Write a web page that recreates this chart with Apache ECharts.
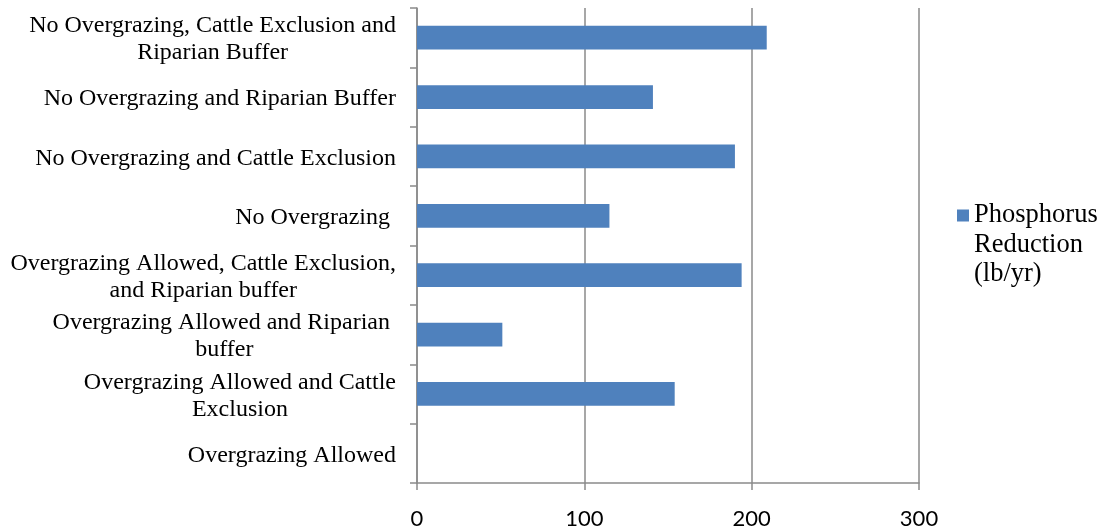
<!DOCTYPE html>
<html>
<head>
<meta charset="utf-8">
<script src="https://cdn.jsdelivr.net/npm/echarts@6/dist/echarts.min.js"></script>
<style>
  html, body { margin: 0; padding: 0; background: #fff; }
  #chart { width: 1107px; height: 531px; }
</style>
</head>
<body>
<div id="chart"></div>
<script>
// bottom to top, as the category axis draws them
const categories = [
  'Overgrazing Allowed',
  'Overgrazing Allowed and Cattle\nExclusion',
  'Overgrazing Allowed and Riparian \nbuffer',
  'Overgrazing Allowed, Cattle Exclusion,\nand Riparian buffer',
  'No Overgrazing ',
  'No Overgrazing and Cattle Exclusion',
  'No Overgrazing and Riparian Buffer',
  'No Overgrazing, Cattle Exclusion and\nRiparian Buffer'
]
const phosphorus = [0, 154, 51, 194, 115, 190, 141, 209]
const xTicks = [0, 100, 200, 300]
const seriesName = 'Phosphorus\nReduction\n(lb/yr)'

const gray = '#8a8a8a'
const chart = echarts.init(document.getElementById('chart'))

chart.setOption({
  animation: false,
  grid: { left: 417, right: 188, top: 8, bottom: 48, containLabel: false },
  legend: {
    data: [seriesName],
    orient: 'vertical',
    left: 952,
    top: 138,
    itemWidth: 12,
    itemHeight: 12,
    itemGap: 0,
    icon: 'rect',
    // two blank lines on top so the first text line sits level with the icon
    formatter: (name) => ['{t| }', '{t| }'].concat(name.split('\n').map(s => '{t|' + s + '}')).join('\n'),
    textStyle: {
      rich: {
        t: {
          fontFamily: 'Liberation Serif',
          fontSize: 26.5,
          lineHeight: 29.5,
          color: '#000',
        },
      },
    },
  },
  xAxis: {
    type: 'value',
    min: xTicks[0],
    max: xTicks[xTicks.length - 1],
    interval: 100,
    axisLine: { show: true, lineStyle: { color: gray, width: 1.5 } },
    axisTick: { show: true, length: 7, lineStyle: { color: gray, width: 1.5 } },
    splitLine: { show: true, lineStyle: { color: gray, width: 1.5 } },
    axisLabel: {
      margin: 25,
      fontFamily: 'Lato',
      fontSize: 22,
      color: '#000',
    },
  },
  yAxis: {
    type: 'category',
    data: categories,
    axisLine: { show: true, lineStyle: { color: gray, width: 1.5 } },
    axisTick: { show: true, length: 7, lineStyle: { color: gray, width: 1.5 } },
    axisLabel: {
      margin: 21,
      align: 'right',
      padding: [4, 0, 0, 0],
      formatter: (v) => v.split('\n').map(s => '{c|' + s + '}').join('\n'),
      rich: {
        c: {
          align: 'center',
          fontFamily: 'Liberation Serif',
          fontSize: 24,
          lineHeight: 27,
          color: '#000',
        },
      },
    },
  },
  series: [
    {
      name: seriesName,
      type: 'bar',
      data: phosphorus,
      barWidth: '40%',
      itemStyle: { color: '#4F81BD' },
    },
  ],
})
</script>
</body>
</html>
